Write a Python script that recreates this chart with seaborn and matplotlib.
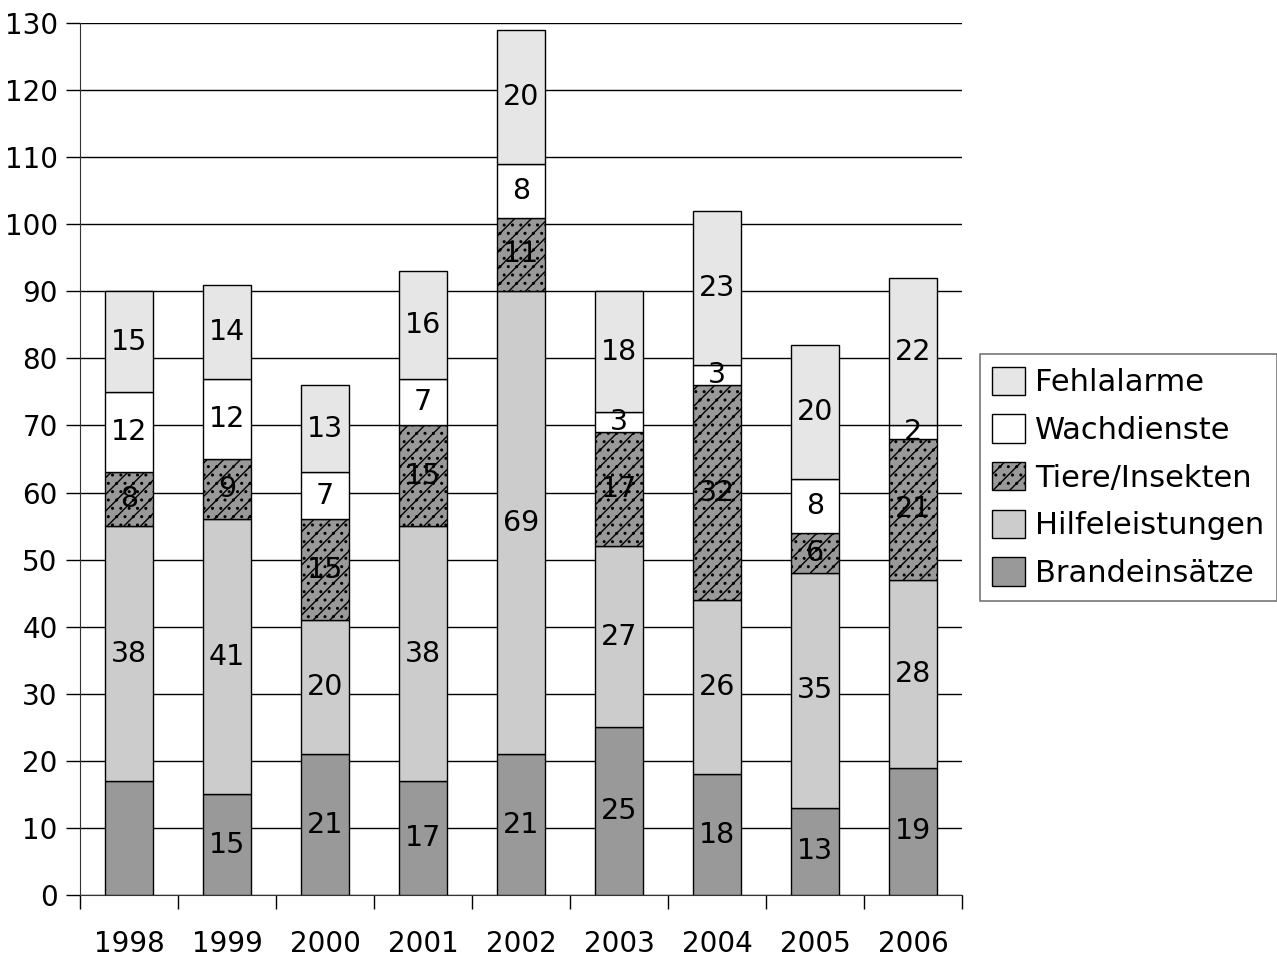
import matplotlib
matplotlib.use("Agg")
import matplotlib.pyplot as plt
import seaborn as sns
import pandas as pd
import numpy as np

years = ["1998", "1999", "2000", "2001", "2002", "2003", "2004", "2005", "2006"]
brand = [17, 15, 21, 17, 21, 25, 18, 13, 19]
hilfe = [38, 41, 20, 38, 69, 27, 26, 35, 28]
tiere = [8, 9, 15, 15, 11, 17, 32, 6, 21]
wache = [12, 12, 7, 7, 8, 3, 3, 8, 2]
fehl = [15, 14, 13, 16, 20, 18, 23, 20, 22]

series = [
    ("Brandeinsätze", brand, "#999999", None),
    ("Hilfeleistungen", hilfe, "#cccccc", None),
    ("Tiere/Insekten", tiere, "#999999", "//.."),
    ("Wachdienste", wache, "#ffffff", None),
    ("Fehlalarme", fehl, "#e6e6e6", None),
]

sns.set_style("white")
plt.rcParams["font.family"] = ["DejaVu Sans"]
plt.rcParams["hatch.linewidth"] = 1.0
plt.rcParams["text.color"] = "black"
plt.rcParams["xtick.color"] = "black"
plt.rcParams["ytick.color"] = "black"

fig = plt.figure(figsize=(12.77, 9.56), dpi=100)
ax = fig.add_axes([0.0626, 0.0638, 0.6907, 0.9121])

bottom = np.zeros(len(years))
for name, vals, color, hatch in series:
    df = pd.DataFrame({"year": years, "val": vals})
    sns.barplot(data=df, x="year", y="val", color=color, bottom=bottom,
                width=0.49, edgecolor="black", linewidth=1.0, hatch=hatch,
                saturation=1, label=name, ax=ax, zorder=3)
    cont = ax.containers[-1]
    labels = [str(v) for v in vals]
    if name == "Brandeinsätze":
        labels[0] = ""
    ax.bar_label(cont, labels=labels, label_type="center", fontsize=20.5,
                 color="black", zorder=4)
    bottom = bottom + np.array(vals)

ax.set_ylim(0, 130)
ax.set_xlim(-0.5, len(years) - 0.5)
ax.set_yticks(range(0, 131, 10))
ax.yaxis.grid(True, color="black", linewidth=1.0, zorder=0)
ax.set_axisbelow(True)
ax.set_xlabel("")
ax.set_ylabel("")
for s in ["top", "right"]:
    ax.spines[s].set_visible(False)
ax.spines["left"].set_color("#333333")
ax.spines["bottom"].set_color("#333333")
ax.tick_params(axis="y", left=True, length=10, width=1, labelsize=20, pad=6)
ax.tick_params(axis="x", bottom=False, labelsize=20, pad=22)
ax.set_xticks(np.arange(-0.5, len(years)), minor=True)
ax.tick_params(axis="x", which="minor", bottom=True, length=10, width=1)

handles, labs = ax.get_legend_handles_labels()
leg = ax.legend(handles[::-1], labs[::-1], loc="center left",
                bbox_to_anchor=(1.02, 0.479), borderaxespad=0, fontsize=22,
                frameon=True, fancybox=False, edgecolor="#555555",
                handlelength=1.05, handleheight=1.05, labelspacing=0.56,
                handletextpad=0.35, borderpad=0.42)
leg.get_frame().set_linewidth(1.2)

fig.savefig("out.png", dpi=100)
